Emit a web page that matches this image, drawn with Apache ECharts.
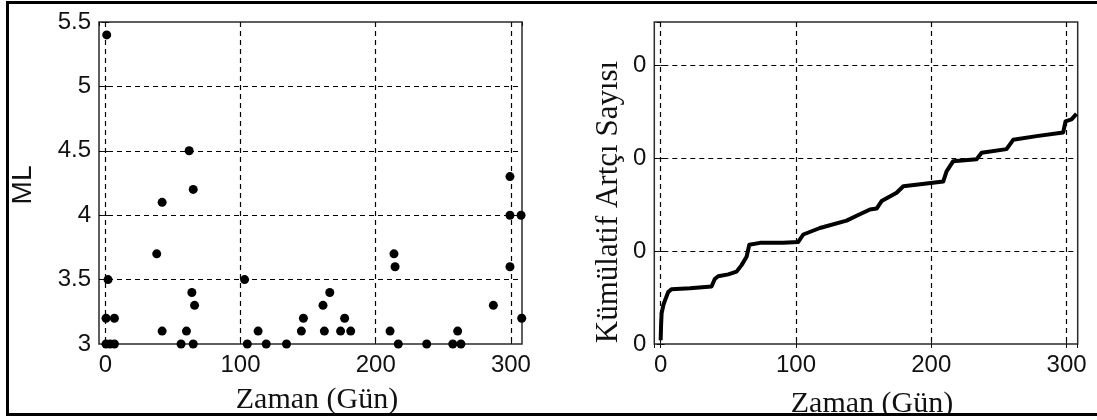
<!DOCTYPE html>
<html>
<head>
<meta charset="utf-8">
<script src="https://cdn.jsdelivr.net/npm/echarts@6/dist/echarts.min.js"></script>
<style>
  html, body { margin: 0; padding: 0; background: #fff; }
  #chart { width: 1097px; height: 420px; }
</style>
</head>
<body>
<div id="chart"></div>
<script>
// Aftershocks: elapsed time (days) and local magnitude ML
const eventDays = [
  1, 2, 0.5, 6.7, 0.5, 3.5, 6.7,
  38, 42, 42, 56, 60, 62, 64, 65, 66, 65,
  103, 105, 113, 119, 134, 145, 146.5,
  161, 162, 166, 174, 177, 181.5,
  210.6, 213.5, 214.3, 216.7, 237.7, 257, 260.6, 263,
  287, 299.3, 299.3, 299.3, 307.5, 308
];
const eventMagnitudes = [
  5.4, 3.5, 3.2, 3.2, 3.0, 3.0, 3.0,
  3.7, 4.1, 3.1, 3.0, 3.1, 4.5, 3.4, 4.2, 3.3, 3.0,
  3.5, 3.0, 3.1, 3.0, 3.0, 3.1, 3.2,
  3.3, 3.1, 3.4, 3.1, 3.2, 3.1,
  3.1, 3.7, 3.6, 3.0, 3.0, 3.0, 3.1, 3.0,
  3.3, 4.3, 4.0, 3.6, 4.0, 3.2
];

// Cumulative aftershock count over time
const cumulativeDays = [
  0, 0.3, 0.7, 2, 3.2, 5.6, 8, 21.6, 37.6, 40, 42.5, 50, 56.1, 59.8, 63.5,
  65.5, 73.4, 90.6, 101.7, 105.4, 117.7, 137.4, 146, 154.7, 159.6, 163.3,
  174.4, 179.3, 196.6, 208.8, 211.3, 216.2, 233.5, 237.2, 255.6, 260.5,
  277.8, 297.5, 299.2, 303.6, 307.3
];
const cumulativeCounts = [
  4, 20, 33, 42, 47, 56, 59, 60, 62, 70, 73, 75, 78, 85, 94,
  107, 109, 109, 110, 118, 125, 133, 139, 145, 146, 154,
  163, 170, 173, 175, 186, 197, 199, 206, 210, 220,
  224, 228, 240, 242, 248
];

// Tick labels
const dayTickLabels = ['0', '100', '200', '300'];
const magnitudeTickLabels = ['3', '3.5', '4', '4.5', '5', '5.5'];
const countTickLabels = ['0', '0', '0', '0'];

const DAY_MIN = -4.7, DAY_MAX = 308.2;
const SANS = '"Liberation Sans", Arial, sans-serif';
const SERIF = '"Liberation Serif", "Times New Roman", serif';
const INK = '#111';

const dashed = { show: true, lineStyle: { color: '#000', width: 1.2, type: [5, 4] } };
const innerTick = { show: true, inside: true, length: 4, lineStyle: { color: INK, width: 1 } };
const tickFont = { fontFamily: SANS, fontSize: 24, color: INK };

function dayAxis(gridIndex, position, withLabels) {
  return {
    type: 'value', gridIndex, position,
    min: DAY_MIN, max: DAY_MAX,
    splitNumber: 3, minInterval: 100, maxInterval: 100,
    axisLine: { show: false },
    axisTick: innerTick,
    axisLabel: withLabels ? Object.assign({
      show: true, margin: 9, showMinLabel: false, showMaxLabel: false,
      formatter: v => (v % 100 === 0 ? dayTickLabels[v / 100] : '')
    }, tickFont) : { show: false },
    splitLine: withLabels ? Object.assign({ showMinLine: false, showMaxLine: false }, dashed) : { show: false }
  };
}

const chart = echarts.init(document.getElementById('chart'), null, { renderer: 'canvas' });

chart.setOption({
  animation: false,
  backgroundColor: '#fff',
  grid: [
    { left: 99, top: 22, width: 423, height: 322, show: true, borderColor: '#2a2a2a', borderWidth: 1.5, backgroundColor: 'transparent' },
    { left: 654.3, top: 22, width: 423.4, height: 322, show: true, borderColor: '#2a2a2a', borderWidth: 1.5, backgroundColor: 'transparent' }
  ],
  xAxis: [
    dayAxis(0, 'bottom', true),
    dayAxis(0, 'top', false),
    dayAxis(1, 'bottom', true),
    dayAxis(1, 'top', false)
  ],
  yAxis: [
    {
      type: 'value', gridIndex: 0, position: 'left',
      min: 3, max: 5.5, interval: 0.5,
      axisLine: { show: false }, axisTick: innerTick,
      axisLabel: Object.assign({
        margin: 8,
        formatter: v => magnitudeTickLabels[Math.round((v - 3) / 0.5)]
      }, tickFont),
      splitLine: Object.assign({ showMinLine: false, showMaxLine: false }, dashed)
    },
    {
      type: 'value', gridIndex: 0, position: 'right',
      min: 3, max: 5.5, interval: 0.5,
      axisLine: { show: false }, axisTick: innerTick,
      axisLabel: { show: false }, splitLine: { show: false }
    },
    {
      type: 'value', gridIndex: 1, position: 'left',
      min: 0, max: 347, interval: 100,
      axisLine: { show: false }, axisTick: innerTick,
      axisLabel: Object.assign({
        margin: 8, showMaxLabel: false,
        formatter: v => (v % 100 === 0 ? countTickLabels[v / 100] : '')
      }, tickFont),
      splitLine: Object.assign({ showMinLine: false, showMaxLine: false }, dashed)
    },
    {
      type: 'value', gridIndex: 1, position: 'right',
      min: 0, max: 347, interval: 100,
      axisLine: { show: false }, axisTick: innerTick,
      axisLabel: { show: false }, splitLine: { show: false }
    }
  ],
  series: [
    {
      type: 'scatter',
      xAxisIndex: 0, yAxisIndex: 0,
      symbol: 'circle', symbolSize: 9,
      itemStyle: { color: '#000', opacity: 1 },
      data: eventDays.map((d, i) => [d, eventMagnitudes[i]]),
      z: 5
    },
    {
      type: 'line',
      xAxisIndex: 2, yAxisIndex: 2,
      showSymbol: false, symbol: 'none',
      lineStyle: { color: '#000', width: 4, join: 'round', cap: 'butt' },
      data: cumulativeDays.map((d, i) => [d, cumulativeCounts[i]]),
      z: 5
    }
  ],
  graphic: [
    {
      type: 'text', x: 23.5, y: 185, rotation: Math.PI / 2,
      style: { text: 'ML', font: '28px ' + SANS, fill: INK, align: 'center', verticalAlign: 'middle' }
    },
    {
      type: 'text', x: 317, y: 400,
      style: { text: 'Zaman (Gün)', font: '30px ' + SERIF, fill: INK, align: 'center', verticalAlign: 'middle' }
    },
    {
      type: 'text', x: 609, y: 202, rotation: Math.PI / 2,
      style: { text: 'Kümülatif Artçı Sayısı', font: '31px ' + SERIF, fill: INK, align: 'center', verticalAlign: 'middle' }
    },
    {
      type: 'text', x: 872, y: 404,
      style: { text: 'Zaman (Gün)', font: '30px ' + SERIF, fill: INK, align: 'center', verticalAlign: 'middle' }
    },
    {
      type: 'rect', z: 100,
      shape: { x: 0, y: 416, width: 1097, height: 10 },
      style: { fill: '#fff' }
    },
    {
      type: 'rect', z: 101,
      shape: { x: 7.5, y: 2.5, width: 1100, height: 412 },
      style: { fill: 'none', stroke: '#000', lineWidth: 3 }
    }
  ]
});
</script>
</body>
</html>
